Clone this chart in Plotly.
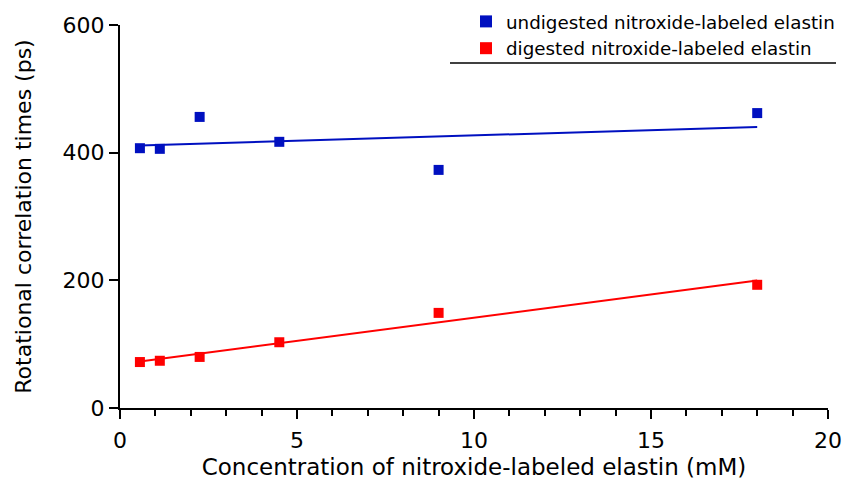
import numpy as np
import plotly.graph_objects as go

concentration = [0.5625, 1.125, 2.25, 4.5, 9.0, 18.0]
undigested = [407, 406, 456, 417, 373, 462]
digested = [72, 74, 80, 103, 149, 193]

names = ["undigested nitroxide-labeled elastin", "digested nitroxide-labeled elastin"]
colors = ["#0010c0", "#ff0000"]

FONT = "DejaVu Sans"

fig = go.Figure()
for ys, name, col in zip([undigested, digested], names, colors):
    fig.add_trace(go.Scatter(x=concentration, y=ys, mode="markers", name=name,
                             marker=dict(symbol="square", size=10, color=col)))
for ys, col in zip([undigested, digested], colors):
    m, b = np.polyfit(concentration, ys, 1)
    xs = [concentration[0], concentration[-1]]
    fig.add_trace(go.Scatter(x=xs, y=[m * v + b for v in xs], mode="lines",
                             line=dict(color=col, width=2), showlegend=False,
                             hoverinfo="skip"))

W, H = 847, 489
L, T, R, B = 120, 25, 19, 81
PW, PH = W - L - R, H - T - B

fig.update_layout(
    width=W, height=H,
    margin=dict(l=L, r=R, t=T, b=B, autoexpand=False),
    plot_bgcolor="white", paper_bgcolor="white",
    font=dict(family=FONT, color="black"),
    showlegend=True,
    legend=dict(x=(466 - L) / PW, y=1 + (T - 3) / PH, xanchor="left", yanchor="top",
                bgcolor="rgba(0,0,0,0)", font=dict(size=18.3, family=FONT),
                tracegroupgap=0, itemsizing="constant"),
    xaxis=dict(range=[0, 20], tickvals=[0, 5, 10, 15, 20], ticks="outside",
               ticklen=9, tickwidth=2, tickcolor="black", showline=True,
               linewidth=2, linecolor="black", showgrid=False, zeroline=False,
               tickfont=dict(size=22, family=FONT), ticklabelstandoff=3,
               minor=dict(dtick=1, ticks="outside", ticklen=6, tickwidth=2,
                          tickcolor="black", showgrid=False),
               title=dict(text="Concentration of nitroxide-labeled elastin (mM)",
                          font=dict(size=23, family=FONT), standoff=6)),
    yaxis=dict(range=[0, 600], tickvals=[0, 200, 400, 600], ticks="outside",
               ticklen=9, tickwidth=2, tickcolor="black", showline=True,
               linewidth=2, linecolor="black", showgrid=False, zeroline=False,
               tickfont=dict(size=22, family=FONT),
               title=dict(text="Rotational correlation times (ps)",
                          font=dict(size=22, family=FONT), standoff=25)),
    shapes=[dict(type="line", xref="paper", yref="paper",
                 x0=(450 - L) / PW, x1=(836 - L) / PW,
                 y0=(408 - 63) / PH, y1=(408 - 63) / PH,
                 line=dict(color="black", width=1.5))],
)

fig.write_html("out.html", config={"displayModeBar": False},
               post_script="document.body.style.margin='0';document.body.style.overflow='hidden';")
